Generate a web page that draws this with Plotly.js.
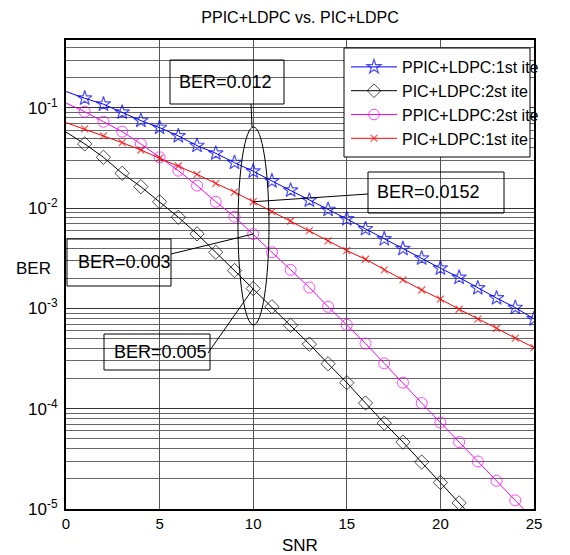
<!DOCTYPE html>
<html>
<head>
<meta charset="utf-8">
<script src="https://cdn.plot.ly/plotly-3.0.1.min.js"></script>
<style>html,body{margin:0;padding:0;background:#fff;}#chart{width:570px;height:555px;}</style>
</head>
<body>
<div id="chart"></div>
<script>
// ---- data ----
const snr = [0,1,2,3,4,5,6,7,8,9,10,11,12,13,14,15,16,17,18,19,20,21,22,23,24,25];
const ppicLdpc1st = [0.146,0.125,0.109,0.0906,0.0748,0.0637,0.0526,0.0421,0.0353,0.0285,0.0234,0.0187,0.0151,0.0120,0.00968,0.00782,0.00622,0.00494,0.00395,0.00317,0.00252,0.00204,0.00160,0.00127,0.00102,0.000787];
const picLdpc2nd = [0.0575,0.0438,0.0322,0.0223,0.0164,0.0116,0.00813,0.00555,0.00364,0.00239,0.00158,0.00104,0.000679,0.000441,0.000281,0.000182,0.000114,0.0000719,0.0000465,0.0000294,0.0000184,0.0000115,0.0000072];
const ppicLdpc2nd = [0.112,0.0918,0.0729,0.0581,0.0438,0.0322,0.0237,0.0168,0.0116,0.00824,0.00553,0.00364,0.00243,0.00162,0.00104,0.000687,0.000447,0.000284,0.000182,0.000114,0.0000728,0.0000465,0.0000298,0.0000191,0.0000122,0.0000078];
const picLdpc1st = [0.0714,0.0618,0.0526,0.0451,0.0381,0.0315,0.0264,0.0218,0.0177,0.0145,0.0116,0.00925,0.00746,0.00598,0.00472,0.00378,0.00310,0.00243,0.00193,0.00153,0.00124,0.000982,0.000782,0.000635,0.000506,0.000407];
const seriesNames = ['PPIC+LDPC:1st ite','PIC+LDPC:2st ite','PPIC+LDPC:2st ite','PIC+LDPC:1st ite'];
const xTicks = [0,5,10,15,20,25];
const decadeExps = [-5,-4,-3,-2,-1];
const decadeLabels = ['10<sup>-5</sup>','10<sup>-4</sup>','10<sup>-3</sup>','10<sup>-2</sup>','10<sup>-1</sup>'];
const calloutTexts = ['BER=0.012','BER=0.003','BER=0.0152','BER=0.005'];
const calloutSnr = 10;

// ---- layout geometry ----
const L = 66, R = 534, T = 40, B = 509;
const yLo = -5, yHi = -0.322;
const px = X => (X - L) / (R - L);
const py = Y => (B - Y) / (B - T);
const dX = X => (X - L) / (R - L) * 25;
const dY = Y => Math.pow(10, yLo + (B - Y) / (B - T) * (yHi - yLo));

// y ticks: decades (labelled) + minor 2..9 gridlines
const majorVals = decadeExps.map(e => Math.pow(10, e));
const minorVals = [];
decadeExps.forEach(e => {
  for (let m = 2; m <= 9; m++) {
    const v = m * Math.pow(10, e);
    if (Math.log10(v) > yHi) break;
    minorVals.push(v);
  }
});

const msz = (xs, s) => xs.map(v => v === 0 ? 0 : s);
const font = 'Liberation Sans, Arial, sans-serif';

const traces = [
  {x: snr, y: ppicLdpc1st, name: seriesNames[0], mode: 'lines+markers',
   line: {color: '#0000ff', width: 1},
   marker: {symbol: 'star-open', size: msz(snr, 11), color: '#0000ff', line: {width: 1.2, color: '#0000ff'}}},
  {x: snr.slice(0, picLdpc2nd.length), y: picLdpc2nd, name: seriesNames[1], mode: 'lines+markers',
   line: {color: '#000000', width: 1},
   marker: {symbol: 'diamond-open', size: msz(snr.slice(0, picLdpc2nd.length), 11), color: '#000000', line: {width: 1, color: '#000000'}}},
  {x: snr, y: ppicLdpc2nd, name: seriesNames[2], mode: 'lines+markers',
   line: {color: '#ff00ff', width: 1},
   marker: {symbol: 'circle-open', size: msz(snr, 11), color: '#ff00ff', line: {width: 1, color: '#ff00ff'}}},
  {x: snr, y: picLdpc1st, name: seriesNames[3], mode: 'lines+markers',
   line: {color: '#ff0000', width: 1},
   marker: {symbol: 'x-thin-open', size: msz(snr, 7), color: '#ff0000', line: {width: 1.2, color: '#ff0000'}}}
];

const rectP = (x0, y0, x1, y1, extra) => Object.assign({type: 'rect', xref: 'paper', yref: 'paper',
  x0: px(x0), x1: px(x1), y0: py(y1), y1: py(y0), line: {color: '#000', width: 1}, layer: 'above'}, extra || {});

const shapes = [
  rectP(344, 48, 530, 157, {fillcolor: '#ffffff'}),
  rectP(170, 60, 284, 104),
  rectP(67, 239, 171, 286),
  rectP(368, 172, 504, 213),
  rectP(104, 334, 210, 370),
  {type: 'circle', xref: 'x', yref: 'y', x0: dX(238), x1: dX(269), y0: dY(325), y1: dY(127),
   line: {color: '#000', width: 1}, layer: 'above'},
  {type: 'line', xref: 'x', yref: 'y', x0: dX(251), y0: dY(104), x1: dX(252), y1: dY(127),
   line: {color: '#000', width: 1}, layer: 'above'},
  {type: 'line', xref: 'x', yref: 'y', x0: dX(171), y0: dY(254), x1: calloutSnr, y1: ppicLdpc2nd[calloutSnr],
   line: {color: '#000', width: 1}, layer: 'above'},
  {type: 'line', xref: 'x', yref: 'y', x0: dX(368), y0: dY(194), x1: calloutSnr, y1: picLdpc1st[calloutSnr],
   line: {color: '#000', width: 1}, layer: 'above'},
  {type: 'line', xref: 'x', yref: 'y', x0: dX(208), y0: dY(353), x1: calloutSnr, y1: picLdpc2nd[calloutSnr],
   line: {color: '#000', width: 1}, layer: 'above'}
];

const txt = (t, X, Y, size, anchor) => ({text: t, xref: 'paper', yref: 'paper', x: px(X), y: py(Y),
  xanchor: anchor || 'left', yanchor: 'middle', showarrow: false, font: {family: font, size: size, color: '#000'}});

const annotations = [
  txt(calloutTexts[0], 177, 82, 18),
  txt(calloutTexts[1], 76, 262, 18),
  txt(calloutTexts[2], 375, 192, 18),
  txt(calloutTexts[3], 112, 352, 18),
  txt('SNR', 300, 545, 17, 'center'),
  txt('BER', 33, 268, 17, 'center')
];

const layout = {
  width: 570, height: 555,
  margin: {l: L, r: 570 - R, t: T, b: 555 - B, pad: 0},
  paper_bgcolor: '#fff', plot_bgcolor: '#fff',
  font: {family: font, size: 15, color: '#000'},
  title: {text: 'PPIC+LDPC vs. PIC+LDPC', x: 0.5, xref: 'paper', y: 1 - 17 / 555, yref: 'container',
          xanchor: 'center', yanchor: 'middle', font: {family: font, size: 16, color: '#000'}},
  xaxis: {range: [0, 25], tickvals: xTicks, showgrid: true, gridcolor: '#555', gridwidth: 1,
          zeroline: false, showline: true, mirror: true, linecolor: '#000', linewidth: 2,
          ticks: '', tickfont: {family: font, size: 15, color: '#000'}},
  yaxis: {type: 'log', range: [yLo, yHi], tickmode: 'array', tickvals: majorVals, ticktext: decadeLabels,
          showgrid: true, gridcolor: '#333', gridwidth: 1, zeroline: false,
          minor: {tickmode: 'array', tickvals: minorVals, showgrid: true, gridcolor: '#666', gridwidth: 1, ticks: ''},
          showline: true, mirror: true, linecolor: '#000', linewidth: 2,
          ticks: '', ticklabelstandoff: 3, tickfont: {family: font, size: 17, color: '#000'}},
  showlegend: true,
  legend: {x: px(346), y: py(50), xanchor: 'left', yanchor: 'top', bgcolor: 'rgba(0,0,0,0)',
           borderwidth: 0, font: {family: font, size: 16, color: '#000'}, itemwidth: 46, tracegroupgap: 0},
  shapes: shapes,
  annotations: annotations
};

Plotly.newPlot('chart', traces, layout, {staticPlot: true, displayModeBar: false});
</script>
</body>
</html>
